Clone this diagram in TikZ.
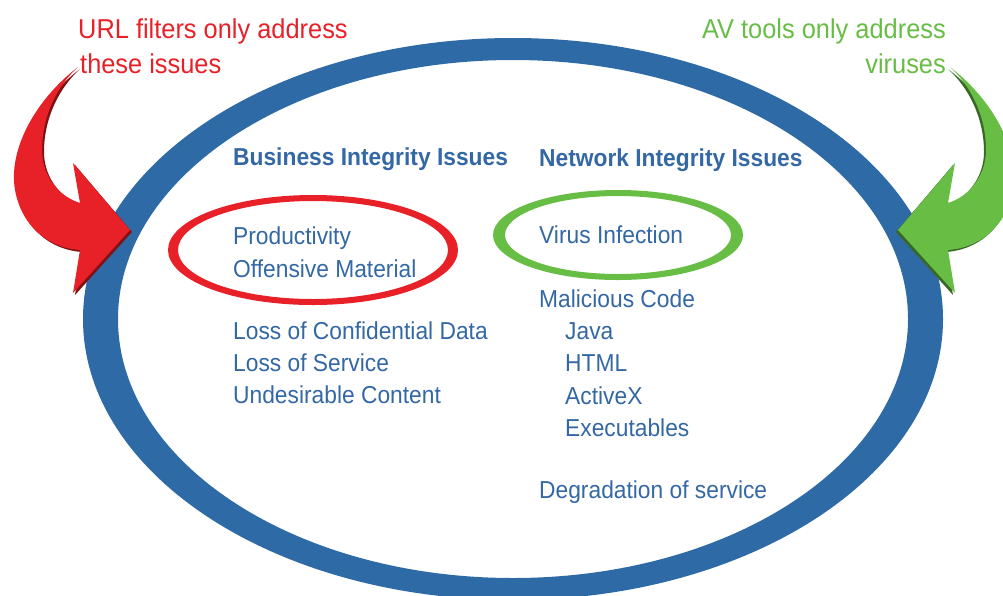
\documentclass[tikz,border=0pt]{standalone}
\usepackage{fontspec}
\setmainfont{Liberation Sans}[FakeStretch=0.93]
\usetikzlibrary{positioning}
\definecolor{ringblue}{RGB}{46,107,166}
\definecolor{textblue}{RGB}{52,104,165}
\definecolor{urlred}{RGB}{232,32,40}
\definecolor{avgreen}{RGB}{104,189,69}
\tikzset{
  issue/.style={inner sep=0pt, text=textblue, text height=18pt, text depth=6pt,
                font=\fontsize{24.5}{32}\selectfont},
  heading/.style={issue, font=\fontsize{24.5}{32}\selectfont\bfseries},
  note/.style={inner sep=0pt, font=\fontsize{27.3}{35}\selectfont},
  ring/.style={fill, even odd rule},
  fat arrow/.pic={% bevelled arrow, dark copy behind
    \foreach \d/\col in {2/#1!55!black, 0/#1}
      \fill[\col, shift={(\d,\d)}] (78,67) .. controls (35,100) and (8,150) .. (15,190)
        .. controls (22,228) and (50,248) .. (80,250) -- (73,293) -- (130,230) -- (73,163)
        -- (80,203) .. controls (55,195) and (42,172) .. (42,150)
        .. controls (42,115) and (58,85) .. (78,67) -- cycle;
  },
}
\begin{document}
\begin{tikzpicture}[x=1pt, y=-1pt]
  \useasboundingbox (0,0) rectangle (1003,595);
  \clip (0,0) rectangle (1003,595);

  % outer ring and the two marked groups
  \path[ring, ringblue] (513,319) ellipse [x radius=430, y radius=281]
                        (513,319) ellipse [x radius=395, y radius=259];
  \path[ring, urlred] (313,250) ellipse [x radius=145, y radius=55]
                      (313,250) ellipse [x radius=135, y radius=49];
  \path[ring, avgreen] (618,235) ellipse [x radius=125, y radius=45]
                       (618,235) ellipse [x radius=113, y radius=39];

  % business side
  \node[heading, anchor=base west] (bizhead) at (233,165) {Business Integrity Issues};
  \node[issue, anchor=base west] (prod) at (233,244) {Productivity};
  \node[issue, below=9pt of prod.south west, anchor=north west] (offens) {Offensive Material};
  \node[issue, anchor=base west] (lossdata) at (233,339) {Loss of Confidential Data};
  \node[issue, below=8pt of lossdata.south west, anchor=north west] (lossserv) {Loss of Service};
  \node[issue, below=8pt of lossserv.south west, anchor=north west] (undes) {Undesirable Content};

  % network side
  \node[heading, anchor=base west] (nethead) at (539,166) {Network Integrity Issues};
  \node[issue, anchor=base west] (virus) at (539,243) {Virus Infection};
  \node[issue, anchor=base west] (malcode) at (539,307) {Malicious Code};
  \node[issue, below=8pt of malcode.south west, anchor=north west, xshift=26pt] (java) {Java};
  \node[issue, below=8pt of java.south west, anchor=north west] (html) {HTML};
  \node[issue, below=8pt of html.south west, anchor=north west] (activex) {ActiveX};
  \node[issue, below=8pt of activex.south west, anchor=north west] (exec) {Executables};
  \node[issue, anchor=base west] (degrad) at (539,498) {Degradation of service};

  % callouts
  \node[note, text=urlred, anchor=base west] (url1) at (78,38) {URL filters only address};
  \node[note, text=urlred, anchor=base west] (url2) at (80,73) {these issues};
  \node[note, text=avgreen, anchor=base east] (av1) at (946,38) {AV tools only address};
  \node[note, text=avgreen, anchor=base east] (av2) at (946,73) {viruses};

  \pic at (0,0) {fat arrow=urlred};
  \pic[xscale=-1] at (1028,0) {fat arrow=avgreen};

\end{tikzpicture}
\end{document}
